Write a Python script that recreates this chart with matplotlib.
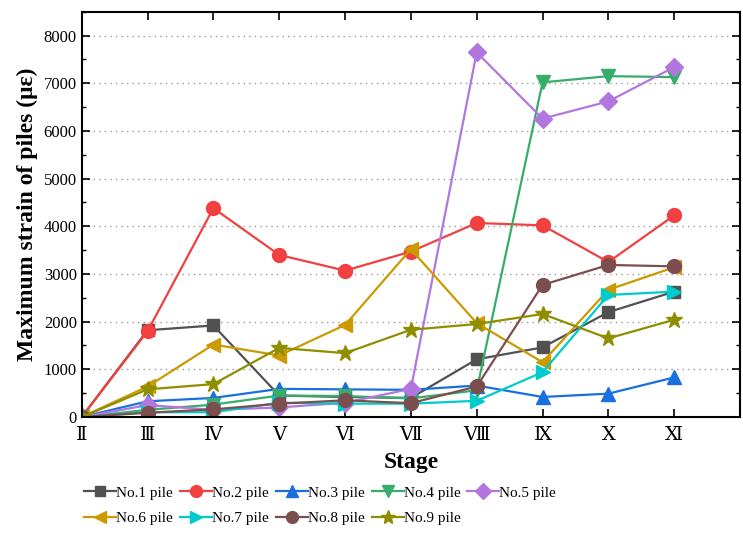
import numpy as np
import matplotlib
matplotlib.use("Agg")
import matplotlib.pyplot as plt
from matplotlib.ticker import MultipleLocator

plt.rcParams['font.family'] = ['Liberation Serif', 'DejaVu Serif', 'Noto Sans CJK SC']

# stages II..XI (roman numeral characters)
stages = ['Ⅱ', 'Ⅲ', 'Ⅳ', 'Ⅴ', 'Ⅵ', 'Ⅶ', 'Ⅷ', 'Ⅸ', 'Ⅹ', 'Ⅺ']

pile1 = [0, 1820, 1920, 450, 420, 400, 1210, 1460, 2200, 2630]
pile2 = [0, 1800, 4380, 3400, 3070, 3470, 4070, 4020, 3250, 4230]
pile3 = [0, 330, 400, 590, 580, 570, 660, 420, 490, 830]
pile4 = [0, 150, 260, 450, 440, 390, 560, 7020, 7150, 7130]
pile5 = [0, 250, 150, 200, 300, 590, 7650, 6260, 6620, 7340]
pile6 = [0, 640, 1520, 1290, 1930, 3520, 1970, 1150, 2670, 3140]
pile7 = [0, 100, 100, 300, 280, 280, 340, 940, 2560, 2630]
pile8 = [0, 90, 160, 280, 350, 290, 640, 2770, 3190, 3160]
pile9 = [0, 580, 690, 1450, 1340, 1830, 1950, 2160, 1650, 2040]

series = [pile1, pile2, pile3, pile4, pile5, pile6, pile7, pile8, pile9]
labels = ['No.%d pile' % i for i in range(1, 10)]
colors = ['#515151', '#F14040', '#1A6FDF', '#37AD6B', '#B177DE',
          '#CC9900', '#00CBCC', '#7D4E4E', '#8E8E00']
markers = ['s', 'o', '^', 'v', 'D', '<', '>', 'o', '*']
msizes = [9, 10, 10, 10, 9, 10, 10, 10, 12]

fig = plt.figure(figsize=(7.43, 5.36), dpi=100)
ax = fig.add_axes([0.110, 0.222, 0.886, 0.756])

x = np.arange(len(stages))
handles = []
for y, lab, c, m, ms in zip(series, labels, colors, markers, msizes):
    h, = ax.plot(x, y, color=c, marker=m, markersize=ms, linewidth=1.6, label=lab)
    handles.append(h)

ax.set_xlim(0, 10)
ax.set_ylim(0, 8500)
ax.set_xticks(x)
ax.set_xticklabels(stages)
ax.yaxis.set_major_locator(MultipleLocator(1000))
ax.yaxis.set_minor_locator(MultipleLocator(500))
ax.tick_params(which='both', direction='in', top=True, right=True, labelsize=12)
ax.tick_params(axis='x', pad=7, labelsize=14)
ax.tick_params(which='major', length=6, width=1.2)
ax.tick_params(which='minor', length=3, width=1.0)
for s in ax.spines.values():
    s.set_linewidth(1.5)

ax.yaxis.grid(True, linestyle=(0, (1, 3)), color='#999999', linewidth=1.0)
ax.set_axisbelow(True)

ax.set_xlabel('Stage', fontsize=17, fontweight='bold', labelpad=6)
ax.set_ylabel('Maximum strain of piles (με)', fontsize=17,
              fontweight='bold', labelpad=4)

# row-major order for a 5-column legend
order = [0, 5, 1, 6, 2, 7, 3, 8, 4]
fig.legend([handles[i] for i in order], [labels[i] for i in order],
           ncol=5, loc='upper center', bbox_to_anchor=(0.431, 0.113),
           frameon=False, fontsize=11, handlelength=2.1, handletextpad=0.0,
           columnspacing=0.45, labelspacing=0.75, borderpad=0.2,
           markerscale=0.85)

fig.savefig('out.png', dpi=100)
